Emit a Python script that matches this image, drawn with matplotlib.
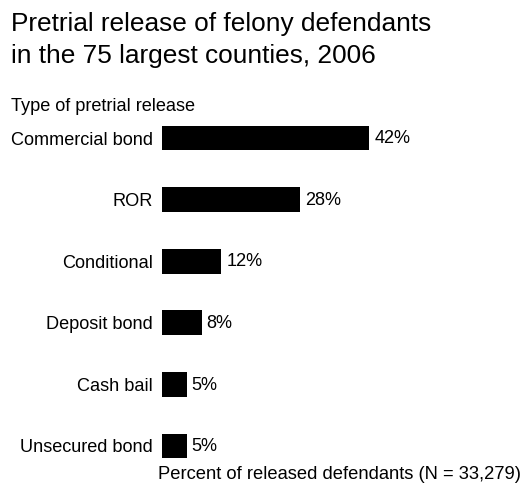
import matplotlib.pyplot as plt

plt.rcParams['font.family'] = ['Liberation Sans', 'DejaVu Sans']

# Tipos de liberación y porcentaje de acusados liberados
release_types = ['Commercial bond', 'ROR', 'Conditional', 'Deposit bond',
                 'Cash bail', 'Unsecured bond']
percents = [42, 28, 12, 8, 5, 5]

fig = plt.figure(figsize=(5.28, 4.88), dpi=100)
ax = fig.add_axes([0.3074, 0.0230, 0.5600, 0.7573])

positions = list(range(len(release_types)))
ax.barh(positions, percents, height=0.40, color='black')

for pos, value in zip(positions, percents):
    ax.annotate(f'{value}%', xy=(value, pos), xytext=(3.5, -0.5),
                textcoords='offset points', va='center', ha='left',
                fontsize=13.1)

ax.set_xlim(0, 60)
ax.set_ylim(len(release_types) - 0.5, -0.5)
ax.set_yticks(positions)
ax.set_yticklabels(release_types, fontsize=13.1)
ax.tick_params(axis='y', length=0, pad=7)
ax.set_xticks([])
for spine in ax.spines.values():
    spine.set_visible(False)

fig.text(11 / 528, 1 - 30.7 / 488,
         'Pretrial release of felony defendants', fontsize=18.9,
         va='baseline', ha='left')
fig.text(11 / 528, 1 - 62.7 / 488,
         'in the 75 largest counties, 2006', fontsize=18.9,
         va='baseline', ha='left')
fig.text(11 / 528, 1 - 111 / 488, 'Type of pretrial release',
         fontsize=13.1, va='baseline', ha='left')
fig.text(158 / 528, 1 - 479 / 488,
         'Percent of released defendants (N = 33,279)',
         fontsize=13.2, va='baseline', ha='left')

fig.savefig('out.png', dpi=100)
